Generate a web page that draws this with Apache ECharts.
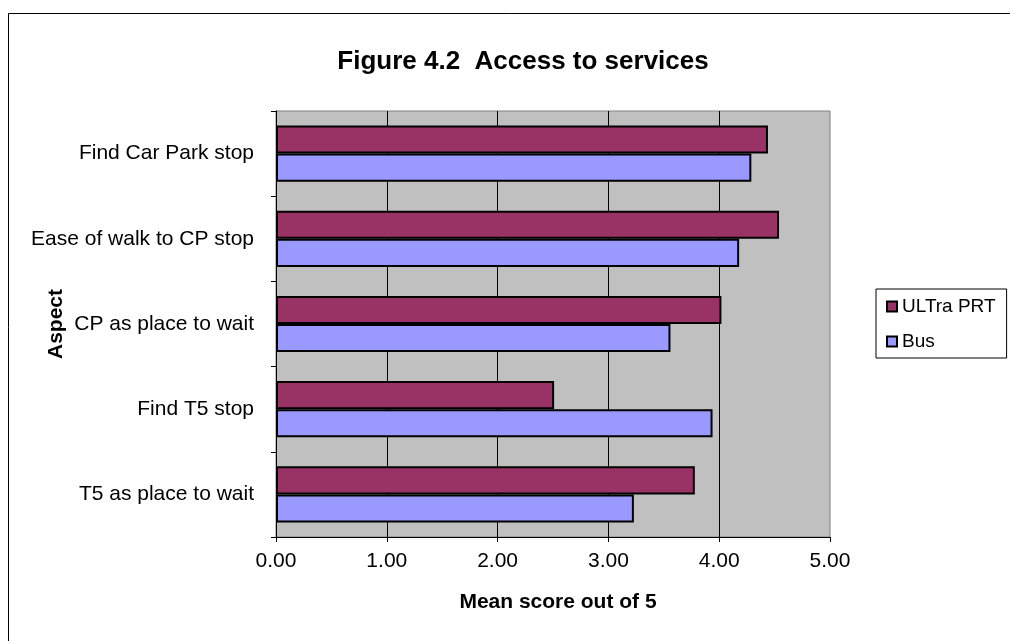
<!DOCTYPE html>
<html>
<head>
<meta charset="utf-8">
<script src="https://cdn.jsdelivr.net/npm/echarts@6/dist/echarts.min.js"></script>
<style>
  html, body { margin: 0; padding: 0; background: #ffffff; }
  #chart { width: 1010px; height: 641px; }
</style>
</head>
<body>
<div id="chart"></div>
<script>
// Survey aspects, listed top to bottom
const categories = [
  'Find Car Park stop',
  'Ease of walk to CP stop',
  'CP as place to wait',
  'Find T5 stop',
  'T5 as place to wait'
];
// Mean scores out of 5 for each service
const ultraPrt = [4.44, 4.54, 4.02, 2.51, 3.78];
const bus = [4.29, 4.18, 3.56, 3.94, 3.23];
const seriesNames = ['ULTra PRT', 'Bus'];
const xTicks = { min: 0, max: 5, interval: 1 };

const FONT = '"Liberation Sans", Arial, sans-serif';
const chart = echarts.init(document.getElementById('chart'), null, { renderer: 'canvas' });

chart.setOption({
  animation: false,
  backgroundColor: '#ffffff',
  title: {
    text: 'Figure 4.2  Access to services',
    left: 518,
    top: 44,
    textAlign: 'center',
    textStyle: { fontFamily: FONT, fontSize: 26, fontWeight: 'bold', color: '#000' }
  },
  graphic: [{
    type: 'rect',
    shape: { x: 8.5, y: 13.5, width: 1020, height: 660 },
    style: { fill: 'none', stroke: '#000', lineWidth: 1 },
    silent: true
  }],
  legend: {
    orient: 'vertical',
    left: 876,
    top: 289,
    padding: [8, 11, 7, 10],
    itemGap: 16,
    itemWidth: 10,
    itemHeight: 10,
    icon: 'rect',
    backgroundColor: '#ffffff',
    borderColor: '#000',
    borderWidth: 1,
    textStyle: { fontFamily: FONT, fontSize: 19, color: '#000' },
    data: seriesNames
  },
  grid: {
    left: 276, right: 180, top: 111, bottom: 104,
    outerBoundsMode: 'none',
    containLabel: false,
    show: true,
    backgroundColor: '#C0C0C0',
    borderColor: '#808080',
    borderWidth: 1
  },
  xAxis: {
    type: 'value',
    min: xTicks.min, max: xTicks.max, interval: xTicks.interval,
    name: 'Mean score out of 5',
    nameLocation: 'middle',
    nameGap: 55,
    nameMoveOverlap: false,
    nameTextStyle: { fontFamily: FONT, fontSize: 21, fontWeight: 'bold', color: '#000', padding: [0, 0, 0, 10] },
    axisLine: { show: true, lineStyle: { color: '#000', width: 1 } },
    axisTick: { show: true, length: 5, lineStyle: { color: '#000' } },
    axisLabel: {
      fontFamily: FONT, fontSize: 21, color: '#000', margin: 14,
      formatter: v => v.toFixed(2)
    },
    splitLine: { show: true, showMinLine: false, showMaxLine: false, lineStyle: { color: '#000', width: 1 } }
  },
  yAxis: {
    type: 'category',
    data: categories,
    inverse: true,
    name: 'Aspect',
    nameLocation: 'middle',
    nameGap: 209,
    nameRotate: 90,
    nameMoveOverlap: false,
    nameTextStyle: { fontFamily: FONT, fontSize: 21, fontWeight: 'bold', color: '#000' },
    axisLine: { show: true, lineStyle: { color: '#000', width: 1 } },
    axisTick: { show: true, length: 5, lineStyle: { color: '#000' } },
    axisLabel: { fontFamily: FONT, fontSize: 21, color: '#000', margin: 22 },
    splitLine: { show: false }
  },
  series: [
    {
      name: seriesNames[0],
      type: 'bar',
      data: ultraPrt,
      barGap: '0%',
      barCategoryGap: '34%',
      itemStyle: { color: '#993366', borderColor: '#000', borderWidth: 2 }
    },
    {
      name: seriesNames[1],
      type: 'bar',
      data: bus,
      barGap: '0%',
      barCategoryGap: '34%',
      itemStyle: { color: '#9999FF', borderColor: '#000', borderWidth: 2 }
    }
  ]
});
</script>
</body>
</html>
